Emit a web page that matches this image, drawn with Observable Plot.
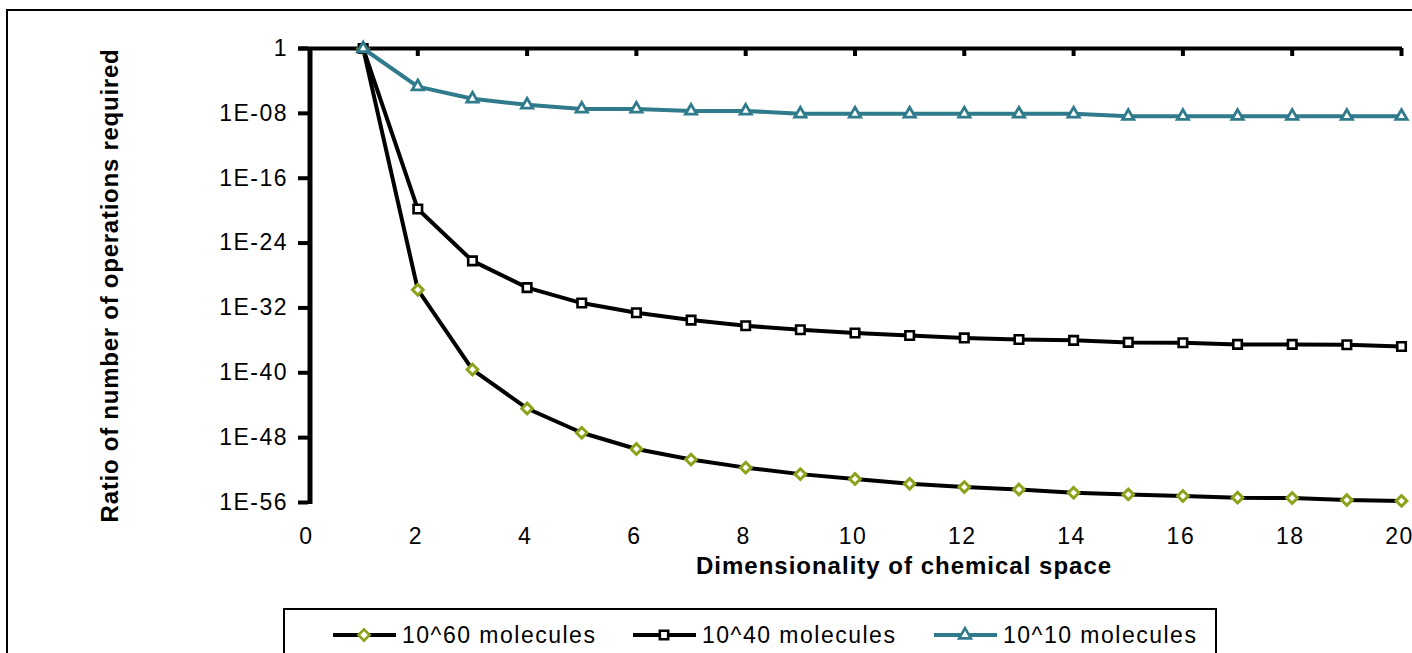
<!DOCTYPE html>
<html><head><meta charset="utf-8">
<script src="https://cdn.jsdelivr.net/npm/d3@7"></script>
<script src="https://cdn.jsdelivr.net/npm/@observablehq/plot@0.6"></script>
<style>
html,body{margin:0;padding:0;background:#fff;width:1412px;height:653px;overflow:hidden;position:relative;font-family:"Liberation Sans",Arial,sans-serif;}
#outer{position:absolute;left:6px;top:9px;width:1500px;height:800px;border:2px solid #000;}
#chart{position:absolute;left:0;top:0;}
#legend{position:absolute;left:283px;top:608px;width:930px;height:80px;border:2px solid #000;background:#fff;}
.item{position:absolute;top:13px;height:24px;}
.item svg{position:absolute;left:0;top:2px;}
.item span{position:absolute;top:0;white-space:nowrap;font-size:23px;letter-spacing:1.5px;line-height:24px;color:#000;}
</style>
</head><body>
<div id="outer"></div>
<div id="chart"></div>
<div id="legend"></div>
<script>
// ---- data ----
const dims = [1,2,3,4,5,6,7,8,9,10,11,12,13,14,15,16,17,18,19,20];
// log10 of the ratio
const log60 = [0,-29.75,-39.6,-44.4,-47.4,-49.4,-50.7,-51.7,-52.5,-53.1,-53.7,-54.1,-54.4,-54.8,-55.0,-55.2,-55.4,-55.45,-55.7,-55.8];
const log40 = [0,-19.8,-26.2,-29.5,-31.4,-32.6,-33.5,-34.2,-34.7,-35.1,-35.4,-35.7,-35.9,-36.0,-36.25,-36.3,-36.5,-36.5,-36.55,-36.75];
const log10s = [0,-4.7,-6.2,-6.95,-7.45,-7.45,-7.7,-7.7,-8.05,-8.05,-8.05,-8.05,-8.05,-8.05,-8.35,-8.35,-8.35,-8.35,-8.35,-8.35];
const seriesNames = ["10^60 molecules","10^40 molecules","10^10 molecules"];
const xTicks = [0,2,4,6,8,10,12,14,16,18,20];
const yTicks = [1,1e-8,1e-16,1e-24,1e-32,1e-40,1e-48,1e-56];
const yTickLabels = ["1","1E-08","1E-16","1E-24","1E-32","1E-40","1E-48","1E-56"];
const xTitle = "Dimensionality of chemical space";
const yTitle = "Ratio of number of operations required";

const GREEN = "#8aa31b", TEAL = "#2f7b8c";
const toRows = (logs, name) => dims.map((d,i) => ({dim: d, ratio: Math.pow(10, logs[i]), series: name}));
const d60 = toRows(log60, seriesNames[0]);
const d40 = toRows(log40, seriesNames[1]);
const d10 = toRows(log10s, seriesNames[2]);

const chart = Plot.plot({
  width: 1412, height: 653,
  marginLeft: 308, marginRight: 11, marginTop: 48, marginBottom: 151,
  x: {domain: [0, 20]},
  y: {type: "log", domain: [1e-56, 1]},
  style: {fontFamily: "'Liberation Sans', Arial, sans-serif", fontSize: "23px", color: "#000", background: "transparent", overflow: "visible", letterSpacing: "1.5px"},
  marks: [
    Plot.axisY({ticks: yTicks, tickFormat: d => yTickLabels[yTicks.indexOf(d)], tickSize: 10, tickPadding: 10.5, strokeWidth: 4, fontSize: 23, label: null}),
    Plot.axisX({ticks: xTicks, tickSize: 0, tickPadding: 25, fontSize: 23, label: null, dx: -2}),
    Plot.ruleY([1], {strokeWidth: 4, insetLeft: -10, insetRight: -1}),
    Plot.ruleX(xTicks.filter(d => d > 0), {x: d => d, y1: 1, y2: 1, insetBottom: -8, strokeWidth: 4}),
    Plot.ruleX([0], {strokeWidth: 5, dx: 1.5, insetBottom: -2}),
    Plot.line(d60, {x: "dim", y: "ratio", stroke: "#000", strokeWidth: 4}),
    Plot.dot(d60, {x: "dim", y: "ratio", symbol: "diamond2", r: 4.8, stroke: GREEN, strokeWidth: 3, fill: "#fff"}),
    Plot.line(d40, {x: "dim", y: "ratio", stroke: "#000", strokeWidth: 4}),
    Plot.dot(d40, {x: "dim", y: "ratio", symbol: "square", r: 4.8, stroke: "#000", strokeWidth: 2.6, fill: "#fff"}),
    Plot.line(d10, {x: "dim", y: "ratio", stroke: TEAL, strokeWidth: 4}),
    Plot.dot(d10, {x: "dim", y: "ratio", symbol: "triangle", r: 4.2, stroke: TEAL, strokeWidth: 2.8, fill: "#fff"}),
    Plot.text([xTitle], {frameAnchor: "bottom", text: d => d, dx: 49, dy: 64, fontSize: 24, fontWeight: "bold", lineAnchor: "middle", textAnchor: "middle"}),
    Plot.text([yTitle], {frameAnchor: "left", text: d => d, dx: -198, dy: 10, rotate: -90, fontSize: 24, fontWeight: "bold", lineAnchor: "middle", textAnchor: "middle"})
  ]
});
// tighter letter spacing on the two axis titles
chart.querySelectorAll("text").forEach(t => {
  if (t.textContent === xTitle) t.style.letterSpacing = "1px";
  else if (t.textContent === yTitle) t.style.letterSpacing = "0.75px";
});
document.getElementById("chart").appendChild(chart);

// ---- legend ----
const legendSpec = [
  {name: seriesNames[0], line: "#000", mark: GREEN, sym: d3.symbolDiamond2, size: 80, left: 48},
  {name: seriesNames[1], line: "#000", mark: "#000", sym: d3.symbolSquare, size: 70, left: 348},
  {name: seriesNames[2], line: TEAL, mark: TEAL, sym: d3.symbolTriangle, size: 60, left: 649}
];
const legend = document.getElementById("legend");
legendSpec.forEach(s => {
  const it = document.createElement("div");
  it.className = "item";
  it.style.left = s.left + "px";
  const path = d3.symbol(s.sym, s.size)();
  it.innerHTML = `<svg width="64" height="20"><line x1="0" x2="63" y1="10" y2="10" stroke="${s.line}" stroke-width="4"/>` +
    `<path transform="translate(31,10)" d="${path}" fill="#fff" stroke="${s.mark}" stroke-width="2.6"/></svg>` +
    `<span style="left:69px">${s.name}</span>`;
  legend.appendChild(it);
});
</script>
</body></html>
